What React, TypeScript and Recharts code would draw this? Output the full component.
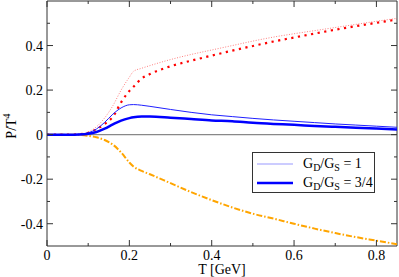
import React from 'react';
import { LineChart, Line, XAxis, YAxis, ReferenceLine, Legend } from 'recharts';

const T = [0, 0.05, 0.08, 0.1, 0.12, 0.14, 0.16, 0.18, 0.2, 0.21, 0.23, 0.25, 0.3, 0.35, 0.4, 0.45, 0.5, 0.55, 0.6, 0.65, 0.7, 0.75, 0.8, 0.85];
const redThin = [0, 0, 0.003, 0.012, 0.035, 0.075, 0.13, 0.2, 0.258, 0.284, 0.298, 0.31, 0.337, 0.36, 0.38, 0.4, 0.42, 0.438, 0.453, 0.467, 0.481, 0.495, 0.509, 0.522];
const redDots = [0, 0, 0.002, 0.008, 0.024, 0.048, 0.08, 0.145, 0.196, 0.215, 0.252, 0.272, 0.307, 0.332, 0.355, 0.377, 0.398, 0.418, 0.436, 0.454, 0.471, 0.487, 0.502, 0.517];
const blueThin = [0, 0, 0.002, 0.008, 0.025, 0.055, 0.092, 0.12, 0.134, 0.135, 0.132, 0.127, 0.113, 0.1, 0.089, 0.081, 0.073, 0.066, 0.06, 0.054, 0.048, 0.043, 0.038, 0.033];
const blueThick = [0, 0, 0.001, 0.004, 0.012, 0.027, 0.046, 0.063, 0.074, 0.078, 0.081, 0.081, 0.076, 0.07, 0.064, 0.06, 0.053, 0.048, 0.044, 0.039, 0.035, 0.031, 0.027, 0.023];
const orange = [0, 0, -0.001, -0.005, -0.012, -0.024, -0.045, -0.08, -0.125, -0.143, -0.163, -0.178, -0.218, -0.258, -0.294, -0.327, -0.355, -0.377, -0.4, -0.422, -0.442, -0.46, -0.476, -0.492];

const xTicks = [0, 0.1, 0.2, 0.3, 0.4, 0.5, 0.6, 0.7, 0.8];
const yTicks = [-0.4, -0.3, -0.2, -0.1, 0, 0.1, 0.2, 0.3, 0.4, 0.5];

const data = T.map((t, i) => ({
  T: t,
  redThin: redThin[i],
  redDots: redDots[i],
  blueThin: blueThin[i],
  blueThick: blueThick[i],
  orange: orange[i],
}));

const FONT = '"Liberation Serif", "Times New Roman", serif';
const LEFT = 47;
const RIGHT = 397;
const TOP = 1;
const BOTTOM = 246;
const AXIS = '#333';

const isMajor = (v: number) => Math.round(v * 10) % 2 === 0;

const XTick = (props: any) => {
  const { x, payload } = props;
  const v = payload.value;
  const major = isMajor(v);
  const len = major ? 6 : 3;
  return (
    <g>
      <line x1={x} x2={x} y1={BOTTOM} y2={BOTTOM - len} stroke={AXIS} strokeWidth={1} />
      <line x1={x} x2={x} y1={TOP} y2={TOP + len} stroke={AXIS} strokeWidth={1} />
      {major && (
        <text x={x} y={260} textAnchor="middle" fontSize={14} fontFamily={FONT} fill="#000">
          {String(Math.round(v * 10) / 10)}
        </text>
      )}
    </g>
  );
};

const YTick = (props: any) => {
  const { y, payload } = props;
  const v = payload.value;
  const major = isMajor(v);
  const len = major ? 6 : 3;
  return (
    <g>
      <line x1={LEFT} x2={LEFT + len} y1={y} y2={y} stroke={AXIS} strokeWidth={1} />
      <line x1={RIGHT} x2={RIGHT - len} y1={y} y2={y} stroke={AXIS} strokeWidth={1} />
      {major && (
        <text x={43} y={y + 5} textAnchor="end" fontSize={14} fontFamily={FONT} fill="#000">
          {String(Math.round(v * 10) / 10)}
        </text>
      )}
    </g>
  );
};

const legendLabels: Record<string, string> = { blueThin: '1', blueThick: '3/4' };
const legendWidths: Record<string, number> = { blueThin: 1.2, blueThick: 2.5 };
const legendColors: Record<string, string> = { blueThin: '#9a9aff', blueThick: '#0000ff' };

const subStyle: React.CSSProperties = { fontSize: 10, verticalAlign: -3, lineHeight: 0 };

const LegendContent = (props: any) => {
  const items = (props.payload || []).filter((p: any) => legendLabels[p.dataKey] !== undefined);
  return (
    <div
      style={{
        border: '1px solid #333',
        background: '#fff',
        width: 121,
        height: 39,
        fontFamily: FONT,
        fontSize: 14,
        fontWeight: 400,
        color: '#000',
        boxSizing: 'content-box',
      }}
    >
      {items.map((it: any, i: number) => (
        <div key={i} style={{ display: 'flex', alignItems: 'center', height: 19, marginTop: i === 0 ? 1 : 0 }}>
          <svg width={46} height={10} style={{ marginLeft: 4 }}>
            <line x1={0} x2={36} y1={5} y2={5} stroke={legendColors[it.dataKey]} strokeWidth={legendWidths[it.dataKey]} />
          </svg>
          <span style={{ whiteSpace: 'nowrap', lineHeight: '14px', fontWeight: 400 }}>
            G<sub style={subStyle}>D</sub>/G<sub style={subStyle}>S</sub> = {legendLabels[it.dataKey]}
          </span>
        </div>
      ))}
    </div>
  );
};

export default function App() {
  return (
    <div style={{ position: 'absolute', left: 0, top: 0, width: 399, height: 277, background: '#fff' }}>
      <LineChart width={399} height={277} data={data} margin={{ top: TOP, right: 399 - RIGHT, left: 0, bottom: 0 }}>
        <XAxis
          dataKey="T"
          type="number"
          domain={[0, 0.85]}
          ticks={xTicks}
          interval={0}
          allowDataOverflow
          height={277 - BOTTOM}
          tickLine={false}
          axisLine={{ stroke: AXIS, strokeWidth: 1 }}
          tick={XTick}
          label={() => (
            <text x={222} y={274} textAnchor="middle" fontSize={14} fontFamily={FONT} fill="#000">
              T [GeV]
            </text>
          )}
        />
        <YAxis
          type="number"
          domain={[-0.5, 0.6]}
          ticks={yTicks}
          interval={0}
          allowDataOverflow
          width={LEFT}
          tickLine={false}
          axisLine={{ stroke: AXIS, strokeWidth: 1 }}
          tick={YTick}
          label={() => (
            <text
              x={16}
              y={126}
              transform="rotate(-90 16 126)"
              textAnchor="middle"
              fontSize={14}
              fontFamily={FONT}
              fill="#000"
            >
              P/T<tspan dy={-6} fontSize={10}>4</tspan>
            </text>
          )}
        />
        <ReferenceLine y={0.6} stroke={AXIS} strokeWidth={1} ifOverflow="extendDomain" />
        <ReferenceLine x={0.85} stroke={AXIS} strokeWidth={1} ifOverflow="extendDomain" />
        <ReferenceLine y={0} stroke="#888" strokeWidth={1.2} />
        <Line type="monotone" dataKey="redThin" stroke="#ff8080" strokeWidth={1} strokeDasharray="1 1.6" dot={false} isAnimationActive={false} legendType="none" />
        <Line type="monotone" dataKey="redDots" stroke="#ff0000" strokeWidth={2.2} strokeDasharray="2.2 4.5" dot={false} isAnimationActive={false} legendType="none" />
        <Line type="monotone" dataKey="orange" stroke="#ffa500" strokeWidth={2} strokeDasharray="6 2 1.5 2" dot={false} isAnimationActive={false} legendType="none" />
        <Line type="monotone" dataKey="blueThin" name="GD/GS = 1" stroke="#2020ff" strokeWidth={1} dot={false} isAnimationActive={false} />
        <Line type="monotone" dataKey="blueThick" name="GD/GS = 3/4" stroke="#0000ff" strokeWidth={2.5} dot={false} isAnimationActive={false} />
        <Legend
          layout="vertical"
          align="center"
          verticalAlign="middle"
          content={LegendContent}
          wrapperStyle={{ position: 'absolute', left: 252, top: 152, width: 123, height: 41, margin: 0 }}
        />
      </LineChart>
    </div>
  );
}
